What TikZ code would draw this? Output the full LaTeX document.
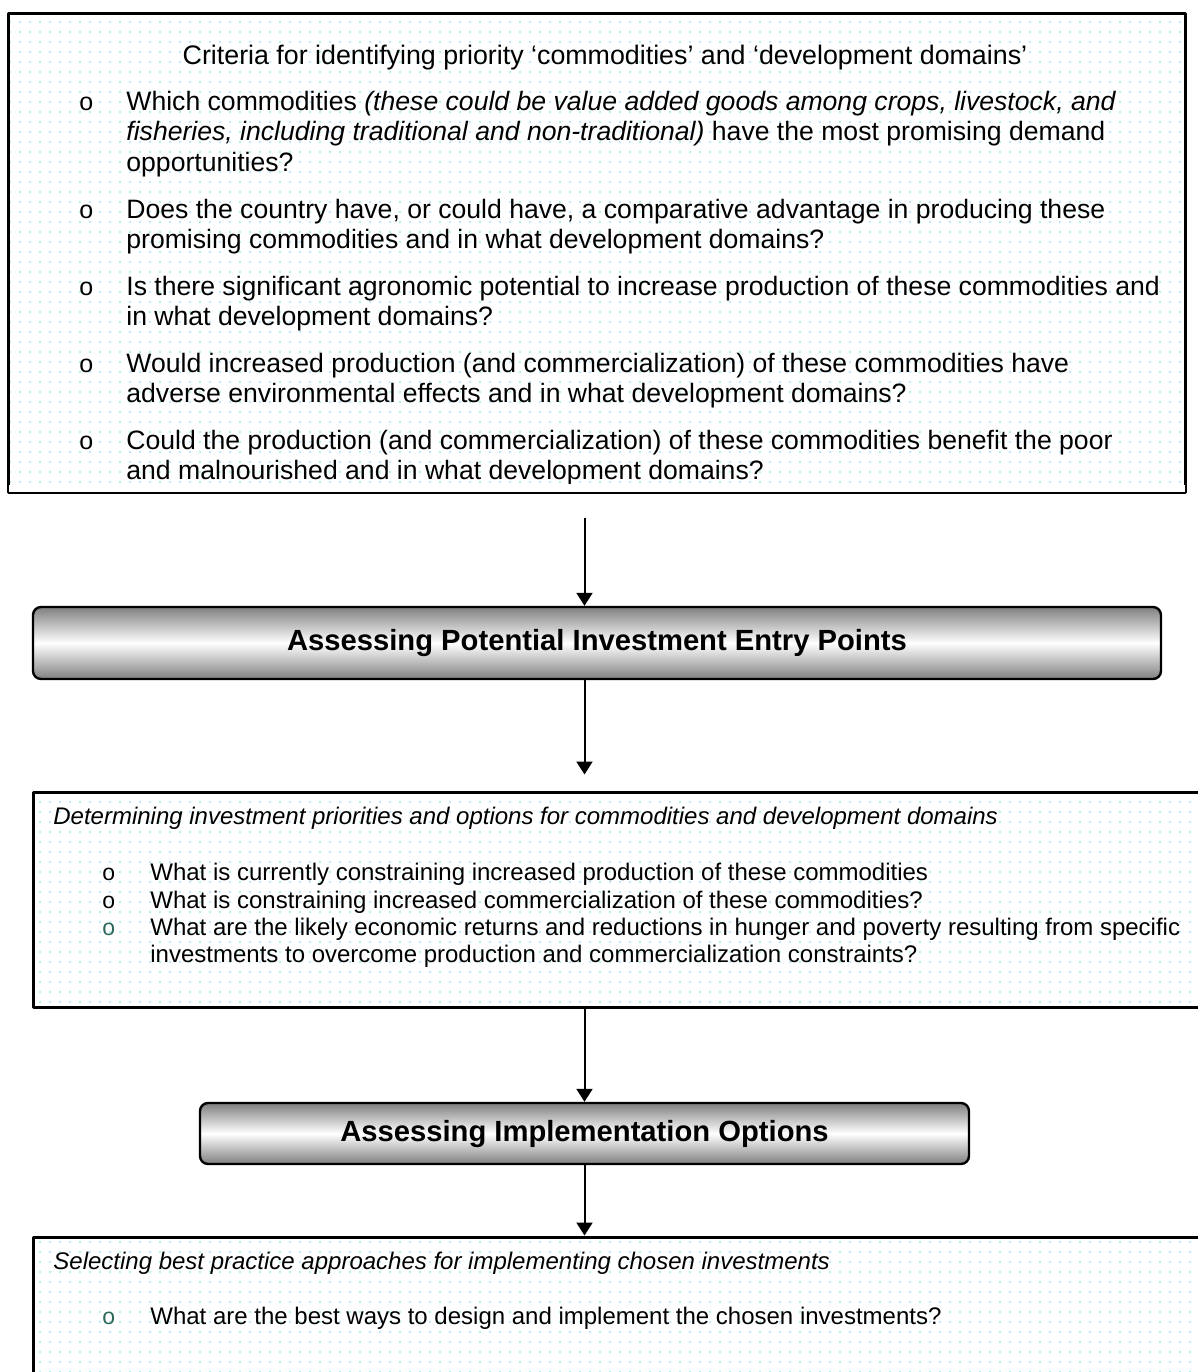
\documentclass[tikz,border=0pt]{standalone}
\usepackage{fontspec}
\setmainfont{Liberation Sans}
\usetikzlibrary{arrows.meta,fit,patterns.meta}
\definecolor{bulletgreen}{RGB}{45,105,90}
\definecolor{speckcyan}{RGB}{160,232,242}
\tikzset{
  panel/.style={draw, line width=1.5pt, inner sep=0pt, pattern={Dots[distance=5pt,radius=0.55pt]}, pattern color=speckcyan},
  banner/.style={draw, line width=1.2pt, rounded corners=4pt, top color=black!50, bottom color=black!50, middle color=white,
    font=\fontsize{14.6}{17}\selectfont\bfseries},
  bigtext/.style={anchor=base west, align=left, inner sep=0pt, font=\fontsize{13.3}{15.25}\selectfont},
  smalltext/.style={anchor=base west, align=left, inner sep=0pt, font=\fontsize{12}{13.75}\selectfont},
  bulletmark/.style={anchor=base west, inner sep=0pt, font=\fontsize{12.5}{14}\selectfont}
}
\begin{document}
\begin{tikzpicture}[x=0.5pt, y=-0.5pt, line join=round, >={Triangle[width=8pt,length=6.5pt]}]
\useasboundingbox (0,0) rectangle (1198,1372);
\clip (0,0) rectangle (1198,1372);
% boxes and banners
\node[panel, fit={(8,13) (1185,492)}] (crit) {};
\fill[white] ([xshift=1pt,yshift=1pt]crit.south west) rectangle ([xshift=-1pt,yshift=4.5pt]crit.south east);
\node[panel, fit={(33,792) (1215,1007)}] (prio) {};
\node[panel, fit={(33,1237) (1215,1400)}] (best) {};
\node[banner, minimum width=564pt, minimum height=36pt] (entry) at (597,643) {Assessing Potential Investment Entry Points};
\node[banner, minimum width=384.5pt, minimum height=30.5pt] (impl) at (584.5,1133.5) {Assessing Implementation Options};
% criteria text, cut off at the bottom (base = last line)
\begin{scope}
  \clip (crit.north west) rectangle (1185,483);
  \node[anchor=base, inner sep=0pt, font=\fontsize{13.4}{15.25}\selectfont] (crittitle) at (605,64)
    {Criteria for identifying priority ‘commodities’ and ‘development domains’};
  \foreach \y/\last/\txt [count=\i] in {
    110/171/{Which commodities \textit{(these could be value added goods among crops, livestock, and}\\
      \textit{fisheries, including traditional and non-traditional)} have the most promising demand\\
      opportunities?},
    218/248.5/{Does the country have, or could have, a comparative advantage in producing these\\
      promising commodities and in what development domains?},
    295/325.5/{Is there significant agronomic potential to increase production of these commodities and\\
      in what development domains?},
    372/402.5/{Would increased production (and commercialization) of these commodities have\\
      adverse environmental effects and in what development domains?},
    449/479.5/{Could the production (and commercialization) of these commodities benefit the poor\\
      and malnourished and in what development domains?}}{
    \node[bulletmark] (critdot\i) at (79,\y) {o};
    \node[bigtext] (crititem\i) at (126,\last) {\txt};
  }
\end{scope}
% priorities text
\node[smalltext] (priohead) at (53,824)
  {\textit{Determining investment priorities and options for commodities and development domains}};
\foreach \y/\last/\col/\txt [count=\i] in {
  880/880/black/{What is currently constraining increased production of these commodities},
  908/908/black/{What is constraining increased commercialization of these commodities?},
  935/962.5/bulletgreen/{What are the likely economic returns and reductions in hunger and poverty resulting from specific\\
    investments to overcome production and commercialization constraints?}}{
  \node[bulletmark, text=\col, font=\fontsize{11.5}{13}\selectfont] (priodot\i) at (102,\y) {o};
  \node[smalltext] (prioitem\i) at (150,\last) {\txt};
}
% best practice text
\node[smalltext] (besthead) at (53,1269)
  {\textit{Selecting best practice approaches for implementing chosen investments}};
\node[bulletmark, text=bulletgreen, font=\fontsize{11.5}{13}\selectfont] (bestdot) at (102,1324) {o};
\node[smalltext] (bestitem) at (150,1324) {What are the best ways to design and implement the chosen investments?};
% arrows
\draw[->, line width=1pt] ([yshift=-12pt]crit.south -| impl.north) -- (entry.north -| impl.north);
\draw[->, line width=1pt] (entry.south -| impl.north) -- ([yshift=8pt]prio.north -| impl.north);
\draw[->, line width=1pt] (prio.south -| impl.north) -- (impl.north);
\draw[->, line width=1pt] (impl.south) -- (best.north -| impl.north);
\end{tikzpicture}
\end{document}
